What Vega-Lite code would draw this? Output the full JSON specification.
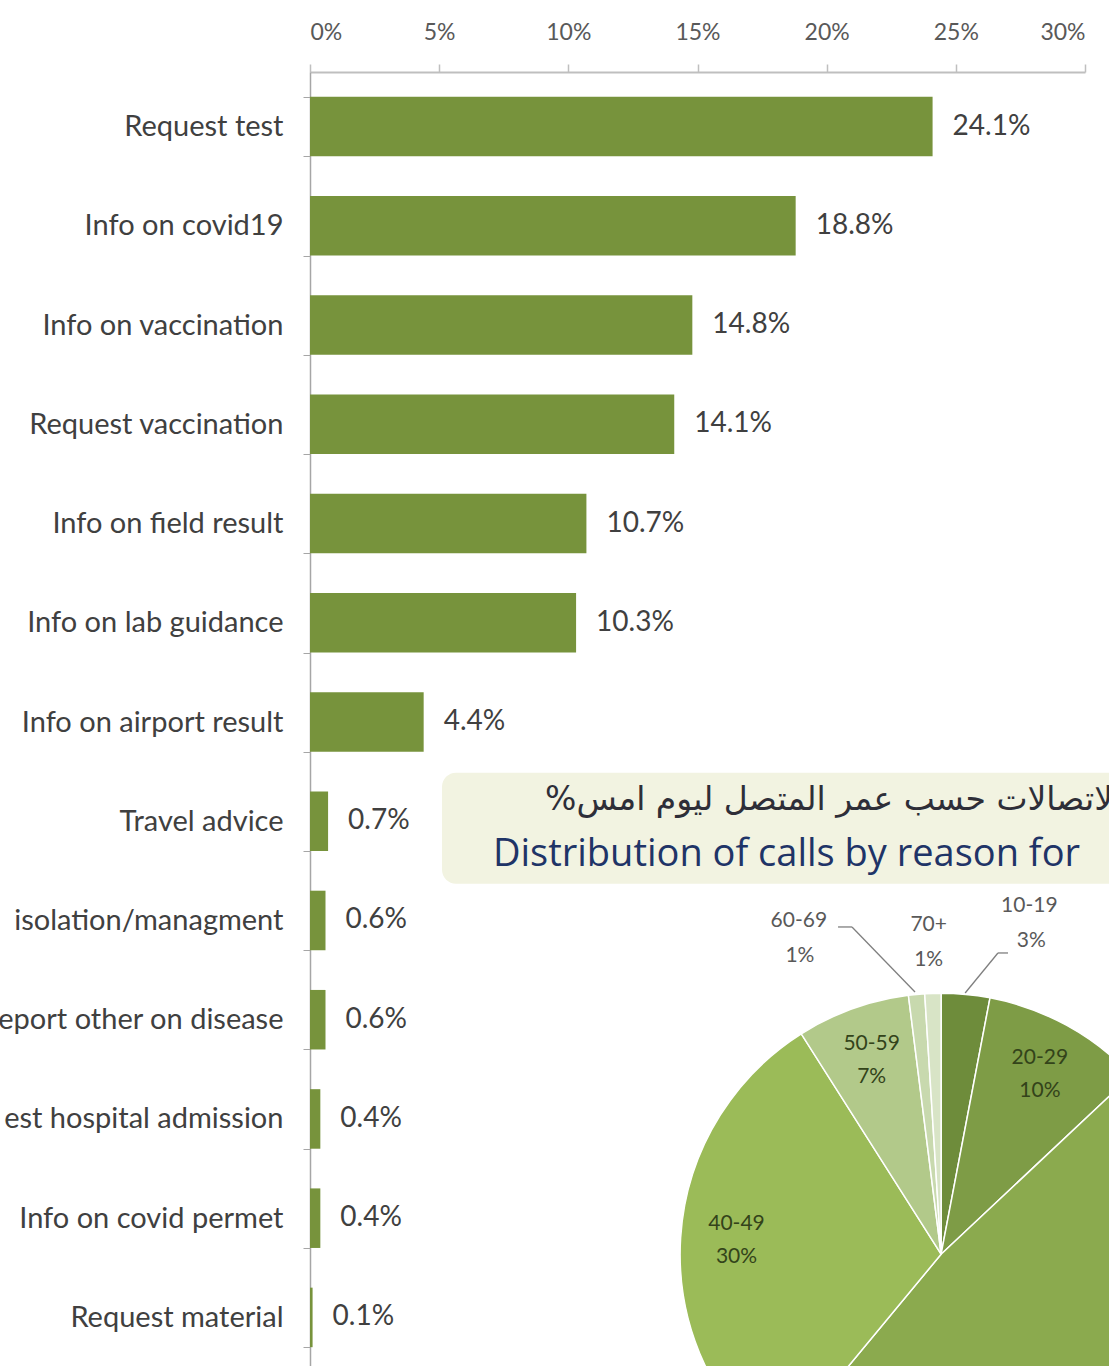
{
  "$schema": "https://vega.github.io/schema/vega-lite/v6.json",
  "autosize": {"type": "none"},
  "width": 775,
  "height": 1300,
  "padding": {"left": 310, "top": 72, "right": 30, "bottom": 0},
  "background": "#ffffff",
  "config": {"view": {"stroke": null}},
  "resolve": {"axis": {"x": "independent", "y": "independent"}},
  "datasets": {
    "reasons": [
      {"reason": "Request test", "share": 0.241},
      {"reason": "Info on covid19", "share": 0.188},
      {"reason": "Info on vaccination", "share": 0.148},
      {"reason": "Request vaccination", "share": 0.141},
      {"reason": "Info on field result", "share": 0.107},
      {"reason": "Info on lab guidance", "share": 0.103},
      {"reason": "Info on airport result", "share": 0.044},
      {"reason": "Travel advice", "share": 0.007},
      {"reason": "isolation/managment", "share": 0.006},
      {"reason": "eport other on disease", "share": 0.006},
      {"reason": "est hospital admission", "share": 0.004},
      {"reason": "Info on covid permet", "share": 0.004},
      {"reason": "Request material", "share": 0.001}
    ],
    "ages": [
      {"age": "10-19", "share": 0.03},
      {"age": "20-29", "share": 0.10},
      {"age": "30-39", "share": 0.48},
      {"age": "40-49", "share": 0.30},
      {"age": "50-59", "share": 0.07},
      {"age": "60-69", "share": 0.01},
      {"age": "70+", "share": 0.01}
    ],
    "titles": [
      {"ar": "\u202bتوزيع الاتصالات حسب عمر المتصل ليوم امس%\u202c", "en": "Distribution of calls by reason for"}
    ]
  },
  "layer": [
    {
      "data": {"name": "reasons"},
      "mark": {"type": "bar", "color": "#77933C"},
      "encoding": {
        "x": {"field": "share", "type": "quantitative",
              "scale": {"domain": [0, 0.3], "nice": false},
              "axis": {"orient": "top", "format": ".0%", "values": [0, 0.05, 0.1, 0.15, 0.2, 0.25, 0.3],
                       "title": null, "grid": false, "labelFont": "Lato", "labelFontSize": 23, "labelColor": "#595959",
                       "domainColor": "#BFBFBF", "domainWidth": 2, "tickColor": "#BFBFBF", "tickWidth": 1.5, "tickSize": 8, "labelPadding": 20}},
        "y": {"field": "reason", "type": "nominal", "sort": null,
              "scale": {"domain": ["Request test", "Info on covid19", "Info on vaccination", "Request vaccination", "Info on field result", "Info on lab guidance", "Info on airport result", "Travel advice", "isolation/managment", "eport other on disease", "est hospital admission", "Info on covid permet", "Request material"],
                        "paddingInner": 0.4, "paddingOuter": 0.25},
              "axis": {"title": null, "labelFont": "Lato", "labelFontSize": 29, "labelColor": "#404040", "labelLimit": 1000,
                       "domainColor": "#A6A6A6", "domainWidth": 1.5, "tickColor": "#A6A6A6", "tickSize": 7, "tickBand": "extent", "labelPadding": 20}}
      }
    },
    {
      "data": {"name": "reasons"},
      "mark": {"type": "text", "align": "left", "baseline": "middle", "dx": 20, "font": "Lato", "fontSize": 28, "color": "#404040"},
      "encoding": {
        "x": {"field": "share", "type": "quantitative", "scale": {"domain": [0, 0.3], "nice": false}, "axis": null},
        "y": {"field": "reason", "type": "nominal", "sort": null, "axis": null},
        "text": {"field": "share", "type": "quantitative", "format": ".1%"}
      }
    },
    {
      "data": {"name": "titles"},
      "mark": {"type": "rect", "fill": "#F2F3E1", "cornerRadius": 14, "height": 111, "yOffset": 7},
      "encoding": {
        "x": {"datum": 0.0511, "type": "quantitative", "axis": null},
        "x2": {"datum": 0.34},
        "y": {"datum": "Travel advice", "type": "nominal", "axis": null}
      }
    },
    {
      "data": {"name": "titles"},
      "mark": {"type": "text", "align": "left", "baseline": "middle", "dy": -21, "font": "DejaVu Sans", "fontSize": 33, "color": "#2E2E38"},
      "encoding": {
        "x": {"datum": 0.091, "type": "quantitative", "axis": null},
        "y": {"datum": "Travel advice", "type": "nominal", "axis": null},
        "text": {"field": "ar"}
      }
    },
    {
      "data": {"name": "titles"},
      "mark": {"type": "text", "align": "left", "baseline": "middle", "dy": 34, "font": "Open Sans", "fontSize": 38, "color": "#1F3467"},
      "encoding": {
        "x": {"datum": 0.0708, "type": "quantitative", "axis": null},
        "y": {"datum": "Travel advice", "type": "nominal", "axis": null},
        "text": {"field": "en"}
      }
    },
    {
      "data": {"name": "titles"},
      "mark": {"type": "rule", "color": "#7F7F7F", "strokeWidth": 1.3, "yOffset": 6.5},
      "encoding": {
        "x": {"datum": 0.2044, "type": "quantitative", "axis": null},
        "x2": {"datum": 0.2098},
        "y": {"datum": "isolation/managment", "type": "nominal", "axis": null}
      }
    },
    {
      "data": {"name": "titles"},
      "mark": {"type": "rule", "color": "#7F7F7F", "strokeWidth": 1.3, "yOffset": 6.5, "y2Offset": 71.5},
      "encoding": {
        "x": {"datum": 0.2098, "type": "quantitative", "axis": null},
        "x2": {"datum": 0.2342},
        "y": {"datum": "isolation/managment", "type": "nominal", "axis": null},
        "y2": {"datum": "isolation/managment"}
      }
    },
    {
      "data": {"name": "titles"},
      "mark": {"type": "rule", "color": "#7F7F7F", "strokeWidth": 1.3, "yOffset": 32.5},
      "encoding": {
        "x": {"datum": 0.2663, "type": "quantitative", "axis": null},
        "x2": {"datum": 0.2702},
        "y": {"datum": "isolation/managment", "type": "nominal", "axis": null}
      }
    },
    {
      "data": {"name": "titles"},
      "mark": {"type": "rule", "color": "#7F7F7F", "strokeWidth": 1.3, "yOffset": 32.5, "y2Offset": 72.5},
      "encoding": {
        "x": {"datum": 0.2663, "type": "quantitative", "axis": null},
        "x2": {"datum": 0.2536},
        "y": {"datum": "isolation/managment", "type": "nominal", "axis": null},
        "y2": {"datum": "isolation/managment"}
      }
    },
    {
      "data": {"name": "ages"},
      "mark": {"type": "arc", "outerRadius": 261, "stroke": "#ffffff", "strokeWidth": 1.5, "yOffset": 36},
      "encoding": {
        "x": {"datum": 0.2443, "type": "quantitative", "axis": null},
        "y": {"datum": "Info on covid permet", "type": "nominal", "axis": null},
        "theta": {"field": "share", "type": "quantitative", "stack": true},
        "order": {"field": "age", "type": "ordinal", "sort": "ascending"},
        "color": {"field": "age", "type": "nominal", "legend": null,
                  "scale": {"domain": ["10-19", "20-29", "30-39", "40-49", "50-59", "60-69", "70+"],
                            "range": ["#6E8C3B", "#7E9C46", "#8BAA4E", "#9BBB58", "#B2C98A", "#C8D9AE", "#D8E4C6"]}}
      }
    },
    {
      "data": {"name": "ages"},
      "mark": {"type": "text", "radius": 205, "dy": -17, "yOffset": 36, "font": "Lato", "fontSize": 21, "color": "#33431A"},
      "encoding": {
        "x": {"datum": 0.2443, "type": "quantitative", "axis": null},
        "y": {"datum": "Info on covid permet", "type": "nominal", "axis": null},
        "theta": {"field": "share", "type": "quantitative", "stack": true},
        "order": {"field": "age", "type": "ordinal", "sort": "ascending"},
        "detail": {"field": "age"},
        "text": {"condition": {"test": "indexof(['20-29','30-39','40-49','50-59'], datum.age) >= 0", "field": "age"}, "value": ""}
      }
    },
    {
      "data": {"name": "ages"},
      "mark": {"type": "text", "radius": 205, "dy": 16, "yOffset": 36, "font": "Lato", "fontSize": 21, "color": "#33431A"},
      "encoding": {
        "x": {"datum": 0.2443, "type": "quantitative", "axis": null},
        "y": {"datum": "Info on covid permet", "type": "nominal", "axis": null},
        "theta": {"field": "share", "type": "quantitative", "stack": true},
        "order": {"field": "age", "type": "ordinal", "sort": "ascending"},
        "detail": {"field": "age"},
        "text": {"condition": {"test": "indexof(['20-29','30-39','40-49','50-59'], datum.age) >= 0", "field": "share", "format": ".0%"}, "value": ""}
      }
    },
    {
      "data": {"name": "ages"},
      "mark": {"type": "text", "radius": 300, "dx": 60, "dy": -50, "yOffset": 36, "font": "Lato", "fontSize": 21, "color": "#595959"},
      "encoding": {
        "x": {"datum": 0.2443, "type": "quantitative", "axis": null},
        "y": {"datum": "Info on covid permet", "type": "nominal", "axis": null},
        "theta": {"field": "share", "type": "quantitative", "stack": true},
        "order": {"field": "age", "type": "ordinal", "sort": "ascending"},
        "detail": {"field": "age"},
        "text": {"condition": {"test": "datum.age === '10-19'", "field": "age"}, "value": ""}
      }
    },
    {
      "data": {"name": "ages"},
      "mark": {"type": "text", "radius": 300, "dx": 62, "dy": -15, "yOffset": 36, "font": "Lato", "fontSize": 21, "color": "#595959"},
      "encoding": {
        "x": {"datum": 0.2443, "type": "quantitative", "axis": null},
        "y": {"datum": "Info on covid permet", "type": "nominal", "axis": null},
        "theta": {"field": "share", "type": "quantitative", "stack": true},
        "order": {"field": "age", "type": "ordinal", "sort": "ascending"},
        "detail": {"field": "age"},
        "text": {"condition": {"test": "datum.age === '10-19'", "field": "share", "format": ".0%"}, "value": ""}
      }
    },
    {
      "data": {"name": "ages"},
      "mark": {"type": "text", "radius": 300, "dx": -3, "dy": -29, "yOffset": 36, "font": "Lato", "fontSize": 21, "color": "#595959"},
      "encoding": {
        "x": {"datum": 0.2443, "type": "quantitative", "axis": null},
        "y": {"datum": "Info on covid permet", "type": "nominal", "axis": null},
        "theta": {"field": "share", "type": "quantitative", "stack": true},
        "order": {"field": "age", "type": "ordinal", "sort": "ascending"},
        "detail": {"field": "age"},
        "text": {"condition": {"test": "datum.age === '70+'", "field": "age"}, "value": ""}
      }
    },
    {
      "data": {"name": "ages"},
      "mark": {"type": "text", "radius": 300, "dx": -3, "dy": 6, "yOffset": 36, "font": "Lato", "fontSize": 21, "color": "#595959"},
      "encoding": {
        "x": {"datum": 0.2443, "type": "quantitative", "axis": null},
        "y": {"datum": "Info on covid permet", "type": "nominal", "axis": null},
        "theta": {"field": "share", "type": "quantitative", "stack": true},
        "order": {"field": "age", "type": "ordinal", "sort": "ascending"},
        "detail": {"field": "age"},
        "text": {"condition": {"test": "datum.age === '70+'", "field": "share", "format": ".0%"}, "value": ""}
      }
    },
    {
      "data": {"name": "ages"},
      "mark": {"type": "text", "radius": 300, "dx": -114, "dy": -35, "yOffset": 36, "font": "Lato", "fontSize": 21, "color": "#595959"},
      "encoding": {
        "x": {"datum": 0.2443, "type": "quantitative", "axis": null},
        "y": {"datum": "Info on covid permet", "type": "nominal", "axis": null},
        "theta": {"field": "share", "type": "quantitative", "stack": true},
        "order": {"field": "age", "type": "ordinal", "sort": "ascending"},
        "detail": {"field": "age"},
        "text": {"condition": {"test": "datum.age === '60-69'", "field": "age"}, "value": ""}
      }
    },
    {
      "data": {"name": "ages"},
      "mark": {"type": "text", "radius": 300, "dx": -113, "dy": 0, "yOffset": 36, "font": "Lato", "fontSize": 21, "color": "#595959"},
      "encoding": {
        "x": {"datum": 0.2443, "type": "quantitative", "axis": null},
        "y": {"datum": "Info on covid permet", "type": "nominal", "axis": null},
        "theta": {"field": "share", "type": "quantitative", "stack": true},
        "order": {"field": "age", "type": "ordinal", "sort": "ascending"},
        "detail": {"field": "age"},
        "text": {"condition": {"test": "datum.age === '60-69'", "field": "share", "format": ".0%"}, "value": ""}
      }
    }
  ]
}
